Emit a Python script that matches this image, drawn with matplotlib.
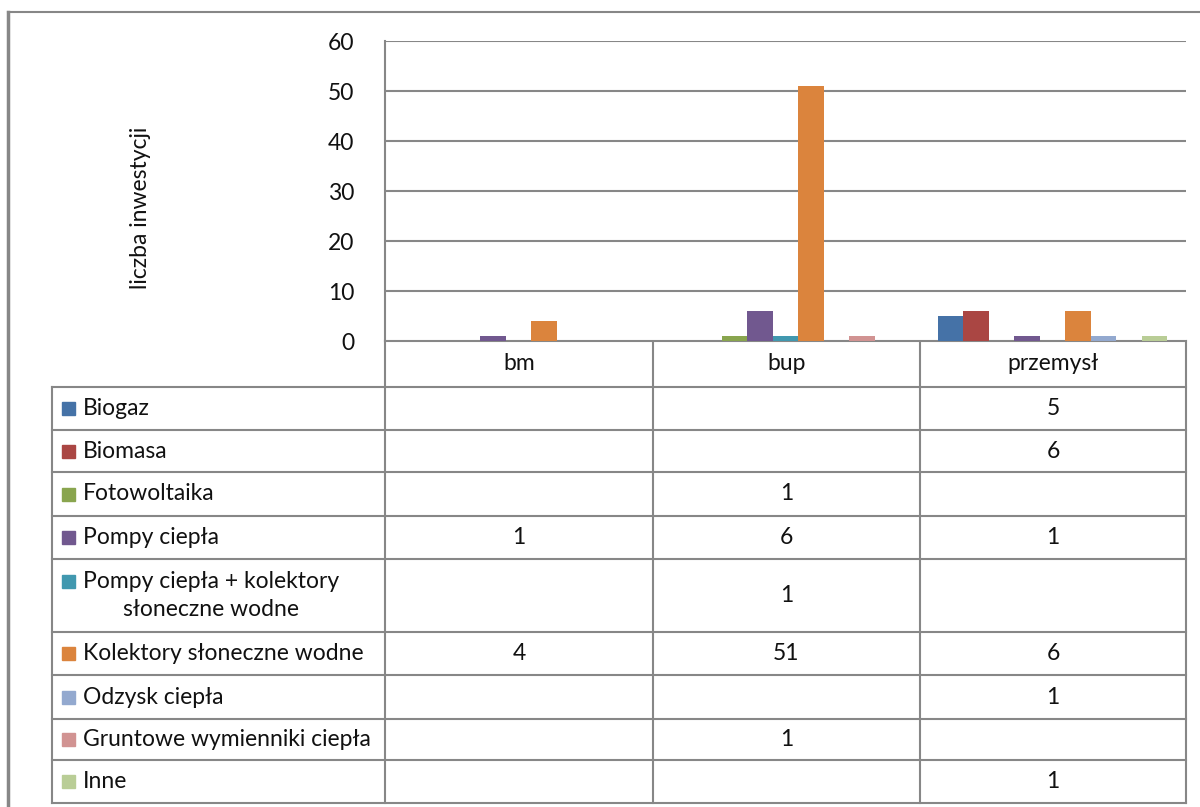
import numpy as np
import matplotlib.pyplot as plt
from matplotlib.patches import Rectangle

plt.rcParams['font.family'] = ['Lato', 'DejaVu Sans']

categories = ['bm', 'bup', 'przemysł']
series_names = ['Biogaz', 'Biomasa', 'Fotowoltaika', 'Pompy ciepła',
                'Pompy ciepła + kolektory\nsłoneczne wodne',
                'Kolektory słoneczne wodne', 'Odzysk ciepła',
                'Gruntowe wymienniki ciepła', 'Inne']
biogaz = [None, None, 5]
biomasa = [None, None, 6]
fotowoltaika = [None, 1, None]
pompy = [1, 6, 1]
pompy_kolektory = [None, 1, None]
kolektory = [4, 51, 6]
odzysk = [None, None, 1]
gruntowe = [None, 1, None]
inne = [None, None, 1]
series_values = [biogaz, biomasa, fotowoltaika, pompy, pompy_kolektory,
                 kolektory, odzysk, gruntowe, inne]
colors = ['#4572A7', '#AA4643', '#89A54E', '#71588F', '#4198AF',
          '#DB843D', '#93A9CF', '#D19392', '#B9CD96']
y_ticks = [0, 10, 20, 30, 40, 50, 60]

W, H = 1200, 807
fig = plt.figure(figsize=(W / 100, H / 100), dpi=100)
grid_col = '#878787'
txt_col = '#111111'
fs = 16.5

# chart area (pixel layout of the reference)
px_left, px_right, px_top, px_bottom = 385, 1186, 41, 341
ax = fig.add_axes([px_left / W, 1 - px_bottom / H,
                   (px_right - px_left) / W, (px_bottom - px_top) / H])
n = len(series_names)
bw = 0.86 / n
x = np.arange(len(categories))
for i, (vals, c) in enumerate(zip(series_values, colors)):
    v = [np.nan if a is None else a for a in vals]
    ax.bar(x - 0.43 + bw * (i + 0.5), v, width=bw, color=c, zorder=3)
ax.set_xlim(-0.5, len(categories) - 0.5)
ax.set_ylim(0, 60)
ax.set_yticks(y_ticks)
ax.set_xticks([])
for s in ['top', 'right', 'bottom']:
    ax.spines[s].set_visible(False)
ax.spines['left'].set_color(grid_col)
ax.spines['left'].set_linewidth(1.5)
ax.tick_params(axis='y', length=0, pad=22, labelsize=fs, labelcolor=txt_col)
ax.grid(axis='y', color=grid_col, linewidth=1.5, zorder=0)
ax.set_ylabel('liczba inwestycji', fontsize=fs, color=txt_col)
ax.yaxis.label.set_verticalalignment('center')
ax.yaxis.set_label_coords((140 - px_left) / (px_right - px_left),
                          (px_bottom - 208) / (px_bottom - px_top))

# overlay in pixel coordinates for the data table and frame
ov = fig.add_axes([0, 0, 1, 1], zorder=-1)
ov.set_xlim(0, W)
ov.set_ylim(H, 0)
ov.axis('off')

lw = 1.5
# outer frame (cut off at right / bottom)
ov.plot([8, W], [12, 12], color=grid_col, lw=1.5)
ov.plot([8, 8], [12, H], color=grid_col, lw=2.5)

col_x = [52, 385, 653, 920, 1186]
row_y = [387, 430, 472, 516, 559, 632, 675, 719, 760, 803]
ov.plot([385, 1186], [341, 341], color=grid_col, lw=lw)
for yy in row_y:
    ov.plot([col_x[0], col_x[-1]], [yy, yy], color=grid_col, lw=lw)
ov.plot([col_x[0], col_x[0]], [row_y[0], row_y[-1]], color=grid_col, lw=lw)
for xx in col_x[1:]:
    ov.plot([xx, xx], [341, row_y[-1]], color=grid_col, lw=lw)

centers = [(col_x[j + 1] + col_x[j + 2]) / 2 for j in range(len(categories))]
for cx, cat in zip(centers, categories):
    ov.text(cx, 364, cat, ha='center', va='center', fontsize=fs, color=txt_col)

for i, (name, vals, c) in enumerate(zip(series_names, series_values, colors)):
    y0, y1 = row_y[i], row_y[i + 1]
    cy = (y0 + y1) / 2
    nlines = name.count('\n') + 1
    first = cy - (nlines - 1) * 14
    ov.add_patch(Rectangle((62, first - 6.5), 13, 13, color=c))
    ov.text(83, cy, name, ha='left', va='center', multialignment='center',
            fontsize=fs, color=txt_col, linespacing=1.4)
    for cx, v in zip(centers, vals):
        if v is not None:
            ov.text(cx, cy, str(v), ha='center', va='center',
                    fontsize=fs, color=txt_col)

fig.savefig('out.png', dpi=100)
